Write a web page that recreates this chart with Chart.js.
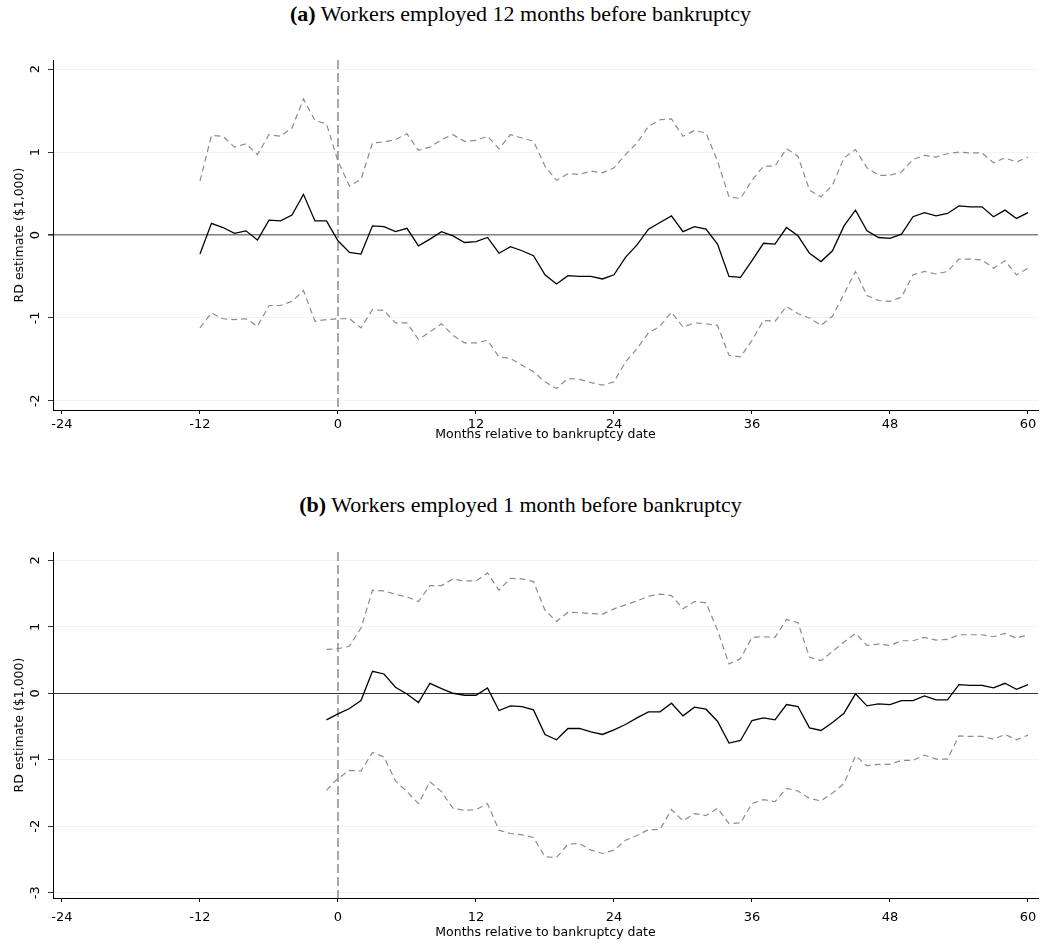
<!DOCTYPE html>
<html>
<head>
<meta charset="utf-8">
<script src="https://cdn.jsdelivr.net/npm/chart.js@4.4.0/dist/chart.umd.min.js"></script>
<style>
  body { margin: 0; background: #fff; width: 1041px; height: 943px; position: relative; overflow: hidden; }
  .ttl { position: absolute; left: 0; width: 1041px; text-align: center; line-height: 24px;
         font-family: "Liberation Serif", "Times New Roman", serif; font-size: 22px; color: #000; }
  canvas { position: absolute; left: 0; }
</style>
</head>
<body>
<div class="ttl" style="top:2px"><b>(a)</b> Workers employed 12 months before bankruptcy</div>
<canvas id="chartA" width="1041" height="420" style="top:30px"></canvas>
<div class="ttl" style="top:493px"><b>(b)</b> Workers employed 1 month before bankruptcy</div>
<canvas id="chartB" width="1041" height="423" style="top:520px"></canvas>
<script>
// months relative to bankruptcy, panel (a): -12 .. 60
const monthsA = [-12,-11,-10,-9,-8,-7,-6,-5,-4,-3,-2,-1,
  0,1,2,3,4,5,6,7,8,9,10,11,
  12,13,14,15,16,17,18,19,20,21,22,23,
  24,25,26,27,28,29,30,31,32,33,34,35,
  36,37,38,39,40,41,42,43,44,45,46,47,
  48,49,50,51,52,53,54,55,56,57,58,59,
  60];
const estA = [-0.23,0.14,0.09,0.02,0.05,-0.06,0.18,0.17,0.24,0.49,0.17,0.17,
  -0.07,-0.21,-0.23,0.11,0.10,0.04,0.08,-0.13,-0.05,0.04,-0.01,-0.09,
  -0.08,-0.03,-0.22,-0.14,-0.19,-0.25,-0.48,-0.59,-0.49,-0.50,-0.50,-0.53,
  -0.48,-0.27,-0.12,0.07,0.15,0.23,0.04,0.10,0.07,-0.11,-0.50,-0.51,
  -0.31,-0.10,-0.11,0.09,-0.01,-0.22,-0.32,-0.19,0.11,0.30,0.05,-0.03,
  -0.04,0.01,0.22,0.27,0.23,0.26,0.35,0.34,0.34,0.22,0.30,0.20,
  0.27];
const hiA = [0.65,1.20,1.19,1.06,1.10,0.97,1.21,1.19,1.29,1.64,1.38,1.34,
  0.89,0.59,0.67,1.11,1.12,1.15,1.22,1.02,1.06,1.15,1.21,1.13,
  1.14,1.19,1.04,1.21,1.17,1.13,0.83,0.66,0.74,0.73,0.77,0.75,
  0.81,0.97,1.11,1.31,1.39,1.40,1.19,1.26,1.23,0.89,0.46,0.44,
  0.66,0.83,0.83,1.04,0.95,0.54,0.46,0.60,0.93,1.03,0.81,0.72,
  0.72,0.76,0.91,0.96,0.94,0.98,1.00,0.99,0.99,0.87,0.93,0.88,
  0.94];
const loA = [-1.12,-0.94,-1.01,-1.02,-1.01,-1.10,-0.85,-0.85,-0.80,-0.67,-1.04,-1.02,
  -1.01,-1.01,-1.12,-0.90,-0.91,-1.06,-1.06,-1.26,-1.17,-1.07,-1.21,-1.30,
  -1.30,-1.27,-1.47,-1.49,-1.57,-1.65,-1.77,-1.85,-1.73,-1.74,-1.78,-1.81,
  -1.77,-1.53,-1.37,-1.18,-1.10,-0.93,-1.11,-1.06,-1.07,-1.09,-1.45,-1.47,
  -1.27,-1.03,-1.04,-0.86,-0.95,-1.00,-1.09,-0.98,-0.71,-0.44,-0.73,-0.79,
  -0.80,-0.75,-0.48,-0.44,-0.47,-0.44,-0.29,-0.29,-0.30,-0.40,-0.31,-0.48,
  -0.40];

// panel (b): -1 .. 60
const monthsB = [-1,
  0,1,2,3,4,5,6,7,8,9,10,11,
  12,13,14,15,16,17,18,19,20,21,22,23,
  24,25,26,27,28,29,30,31,32,33,34,35,
  36,37,38,39,40,41,42,43,44,45,46,47,
  48,49,50,51,52,53,54,55,56,57,58,59,
  60];
const estB = [-0.40,
  -0.31,-0.23,-0.11,0.33,0.29,0.09,-0.01,-0.14,0.15,0.07,0.00,-0.03,
  -0.03,0.08,-0.26,-0.19,-0.20,-0.25,-0.62,-0.70,-0.53,-0.53,-0.58,-0.62,
  -0.55,-0.47,-0.37,-0.28,-0.28,-0.15,-0.34,-0.21,-0.24,-0.42,-0.75,-0.71,
  -0.41,-0.37,-0.40,-0.17,-0.20,-0.52,-0.56,-0.44,-0.30,-0.01,-0.19,-0.16,
  -0.17,-0.11,-0.11,-0.04,-0.10,-0.10,0.13,0.12,0.12,0.08,0.15,0.06,
  0.13];
const hiB = [0.66,
  0.67,0.71,0.98,1.55,1.54,1.49,1.45,1.38,1.62,1.62,1.72,1.69,
  1.69,1.81,1.55,1.73,1.72,1.68,1.25,1.08,1.22,1.21,1.20,1.19,
  1.27,1.33,1.39,1.46,1.49,1.47,1.27,1.38,1.36,0.95,0.44,0.52,
  0.84,0.85,0.84,1.11,1.06,0.54,0.49,0.63,0.77,0.90,0.72,0.74,
  0.72,0.79,0.79,0.84,0.80,0.81,0.88,0.88,0.88,0.85,0.90,0.83,
  0.88];
const loB = [-1.46,
  -1.28,-1.16,-1.17,-0.89,-0.96,-1.32,-1.48,-1.66,-1.33,-1.48,-1.73,-1.76,
  -1.75,-1.66,-2.06,-2.11,-2.13,-2.17,-2.46,-2.47,-2.27,-2.26,-2.36,-2.41,
  -2.36,-2.21,-2.14,-2.05,-2.05,-1.75,-1.92,-1.81,-1.84,-1.73,-1.96,-1.95,
  -1.66,-1.60,-1.63,-1.43,-1.47,-1.58,-1.62,-1.50,-1.36,-0.94,-1.09,-1.07,
  -1.07,-1.01,-1.01,-0.93,-0.99,-0.99,-0.64,-0.65,-0.65,-0.69,-0.62,-0.70,
  -0.63];

const xTicks = [-24, -12, 0, 12, 24, 36, 48, 60];
const yTicksA = [-2, -1, 0, 1, 2];
const yTicksB = [-3, -2, -1, 0, 1, 2];
const eventMonth = 0;

Chart.defaults.font.family = '"DejaVu Sans", sans-serif';
Chart.defaults.color = '#000';

// dashed vertical line at the bankruptcy month
const eventLine = {
  id: 'eventLine',
  beforeDatasetsDraw(chart) {
    const { ctx, chartArea, scales } = chart;
    const px = scales.x.getPixelForValue(eventMonth);
    ctx.save();
    ctx.strokeStyle = '#7a7a7a';
    ctx.lineWidth = 1.3;
    ctx.setLineDash([9, 4]);
    ctx.beginPath();
    ctx.moveTo(px, chartArea.top);
    ctx.lineTo(px, chartArea.bottom);
    ctx.stroke();
    ctx.restore();
  }
};

// Stata style: y tick labels turned 90 degrees
const rotatedYLabels = {
  id: 'rotatedYLabels',
  afterDraw(chart) {
    const { ctx } = chart;
    const y = chart.scales.y;
    ctx.save();
    ctx.font = '13px "DejaVu Sans"';
    ctx.fillStyle = '#000';
    ctx.textAlign = 'center';
    ctx.textBaseline = 'middle';
    y.ticks.forEach(t => {
      ctx.save();
      ctx.translate(36, y.getPixelForValue(t.value));
      ctx.rotate(-Math.PI / 2);
      ctx.fillText(String(t.value), 0, 0);
      ctx.restore();
    });
    ctx.restore();
  }
};

function pts(xs, ys) {
  return xs.map((m, i) => ({ x: m, y: ys[i] }));
}

function makeChart(id, months, est, hi, lo, yTicks, yMin, yMax, zeroColor, zeroWidth, padTop, padBottom, xHeight, tickPad) {
  const ciStyle = { borderColor: '#8c8c8c', borderWidth: 1.2, borderDash: [6, 4], pointRadius: 0, fill: false, tension: 0 };
  return new Chart(document.getElementById(id), {
    type: 'line',
    data: {
      datasets: [
        { label: 'upper', data: pts(months, hi), ...ciStyle },
        { label: 'lower', data: pts(months, lo), ...ciStyle },
        { label: 'estimate', data: pts(months, est), borderColor: '#000', borderWidth: 1.3, pointRadius: 0, fill: false, tension: 0 }
      ]
    },
    options: {
      responsive: false,
      animation: false,
      layout: { padding: { left: 0, right: 3, top: padTop, bottom: padBottom } },
      plugins: { legend: { display: false }, tooltip: { enabled: false } },
      scales: {
        x: {
          type: 'linear', min: -24.78, max: 60.87,
          afterBuildTicks: s => { s.ticks = xTicks.map(v => ({ value: v })); },
          afterFit: s => { s.height = xHeight; s.paddingLeft = 0; s.paddingRight = 0; },
          grid: { drawOnChartArea: false, drawTicks: true, tickLength: 4, tickColor: '#000' },
          border: { color: '#000', width: 1 },
          ticks: { color: '#000', font: { size: 13 }, padding: tickPad, maxRotation: 0, autoSkip: false },
          title: { display: true, text: 'Months relative to bankruptcy date', color: '#000', font: { size: 12.5 }, padding: { top: 0, bottom: 0 } }
        },
        y: {
          min: yMin, max: yMax,
          afterBuildTicks: s => { s.ticks = yTicks.map(v => ({ value: v })); },
          afterFit: s => { s.width = 53; },
          grid: {
            color: c => c.tick && c.tick.value === 0 ? zeroColor : '#eef3f3',
            lineWidth: c => c.tick && c.tick.value === 0 ? zeroWidth : 1,
            drawTicks: true, tickLength: 5, tickColor: '#333'
          },
          border: { color: '#000', width: 1 },
          ticks: { display: false },
          title: { display: true, text: 'RD estimate ($1,000)', color: '#000', font: { size: 12.5 }, padding: { top: 12, bottom: 0 } }
        }
      }
    },
    plugins: [eventLine, rotatedYLabels]
  });
}

makeChart('chartA', monthsA, estA, hiA, loA, yTicksA, -2.11, 2.11, '#808080', 1.6, 30, 8, 32, 3);
makeChart('chartB', monthsB, estB, hiB, loB, yTicksB, -3.08, 2.125, '#333333', 1, 32, 3, 42, 8);
</script>
</body>
</html>
